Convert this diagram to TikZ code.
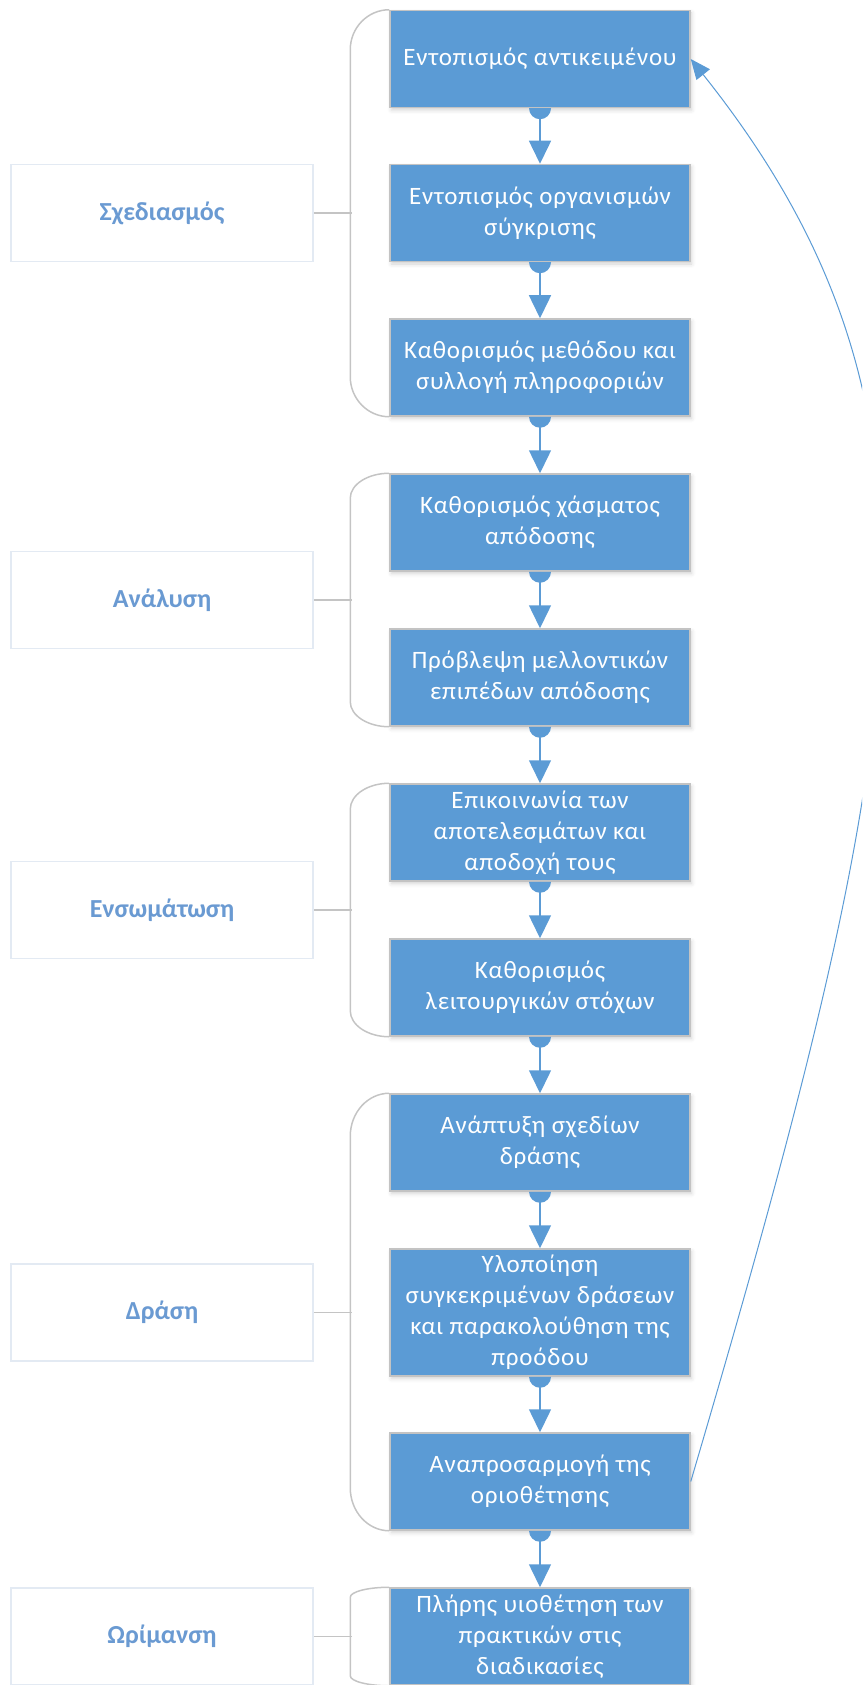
\documentclass[tikz,border=0pt]{standalone}
\usepackage{fontspec}
\setmainfont{Carlito}
\newfontfamily\stepfont[LetterSpace=3]{Carlito}
\usetikzlibrary{arrows.meta,shadows.blur,calc}

\definecolor{stepblue}{HTML}{5B9BD5}
\definecolor{stepedge}{HTML}{C3C3C3}
\definecolor{phaseedge}{HTML}{E3EAF3}
\definecolor{phasetext}{HTML}{6A9AD2}
\definecolor{bracegray}{HTML}{C4C4C4}

\tikzset{
  stepbox/.style={draw=stepedge, line width=1.5pt, fill=stepblue, text=white,
    minimum width=300pt, minimum height=97pt, inner sep=0pt, align=center,
    font=\stepfont\fontsize{25}{31}\selectfont,
    blur shadow={shadow xshift=1.5pt, shadow yshift=-2.5pt, shadow opacity=18, shadow blur radius=4pt}},
  phasebox/.style={draw=phaseedge, line width=1.5pt, fill=white, text=phasetext,
    minimum width=302pt, minimum height=97pt, inner sep=0pt,
    font=\bfseries\fontsize{26}{31}\selectfont},
  flow/.style={draw=stepblue, line width=1.5pt, -{Triangle[length=23pt,width=22pt]}},
  loopback/.style={draw=stepblue, line width=1pt, -{Triangle[length=20pt,width=17pt]}},
  bracket/.style={draw=bracegray, line width=1.5pt},
}

% half disc hanging below a step box
\newcommand\stepdot[1]{\fill[stepblue] (#1.south) ++(-11pt,0) arc[start angle=180,end angle=360,radius=11pt] -- cycle;}
% rounded bracket grouping the steps of one phase
\newcommand\phasebracket[3]{%
  \draw[bracket] (#1.north west) .. controls +(-21.5,0) and +(0,-0.552*#3) .. ++(-39,#3)
    -- ($(#2.south west)+(-39,-#3)$) .. controls +(0,0.552*#3) and +(-21.5,0) .. (#2.south west);}

\begin{document}
\begin{tikzpicture}[x=1pt,y=-1pt]
\useasboundingbox (0,0) rectangle (862,1685);
\clip (0,0) rectangle (862,1685);

% steps
\node[stepbox] (b1)  at (540,59)    {Εντοπισμός αντικειμένου};
\node[stepbox] (b2)  at (540,213)   {Εντοπισμός οργανισμών\\σύγκρισης};
\node[stepbox] (b3)  at (540,367.5) {Καθορισμός μεθόδου και\\συλλογή πληροφοριών};
\node[stepbox] (b4)  at (540,522.5) {Καθορισμός χάσματος\\απόδοσης};
\node[stepbox] (b5)  at (540,677.5) {Πρόβλεψη μελλοντικών\\επιπέδων απόδοσης};
\node[stepbox] (b6)  at (540,832.5) {Επικοινωνία των\\αποτελεσμάτων και\\αποδοχή τους};
\node[stepbox] (b7)  at (540,987.5) {Καθορισμός\\λειτουργικών στόχων};
\node[stepbox] (b8)  at (540,1142.5) {Ανάπτυξη σχεδίων\\δράσης};
\node[stepbox, minimum height=127pt] (b9) at (540,1312.5) {Υλοποίηση\\συγκεκριμένων δράσεων\\και παρακολούθηση της\\προόδου};
\node[stepbox] (b10) at (540,1481.5) {Αναπροσαρμογή της\\οριοθέτησης};
\node[stepbox] (b11) at (540,1636.5) {Πλήρης υιοθέτηση των\\πρακτικών στις\\διαδικασίες};

% phases
\node[phasebox] (p1) at (162,213)    {Σχεδιασμός};
\node[phasebox] (p2) at (162,600)    {Ανάλυση};
\node[phasebox] (p3) at (162,910)    {Ενσωμάτωση};
\node[phasebox] (p4) at (162,1312.5) {Δράση};
\node[phasebox] (p5) at (162,1636.5) {Ωρίμανση};

% brackets and their links to the phase labels
\phasebracket{b1}{b3}{40}
\phasebracket{b4}{b5}{25}
\phasebracket{b6}{b7}{26}
\phasebracket{b8}{b10}{43}
\phasebracket{b11}{b11}{10}
\foreach \p in {p1,p2,p3,p4,p5} \draw[bracket] (\p.east) -- ++(38,0);

% flow between steps
\foreach \a/\b in {b1/b2,b2/b3,b3/b4,b4/b5,b5/b6,b6/b7,b7/b8,b8/b9,b9/b10,b10/b11}{
  \stepdot{\a}
  \draw[flow] (\a.south) -- (\b.north);
}

% feedback loop
\draw[loopback] (b10.east) .. controls (915,720) and (971,411) .. (b1.east);
\end{tikzpicture}
\end{document}
